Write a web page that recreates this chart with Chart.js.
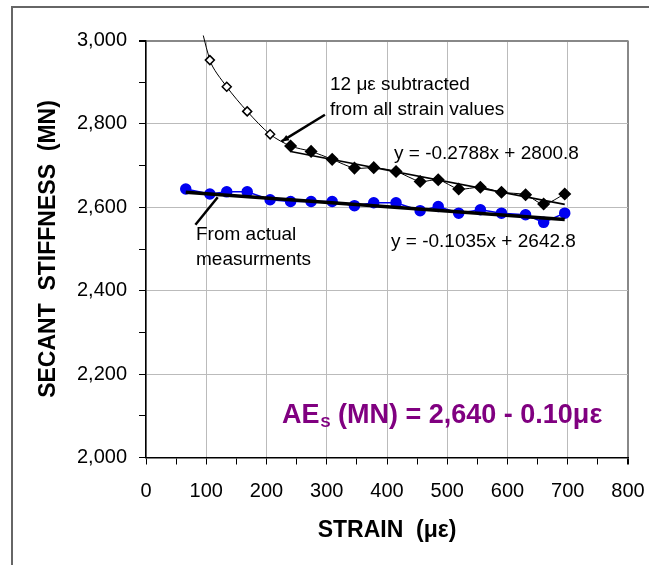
<!DOCTYPE html>
<html>
<head>
<meta charset="utf-8">
<script src="https://cdn.jsdelivr.net/npm/chart.js@4.4.0/dist/chart.umd.min.js"></script>
<style>
  html, body { margin: 0; padding: 0; background: #fff; }
  #wrap { position: relative; width: 649px; height: 565px; }
</style>
</head>
<body>
<div id="wrap"><canvas id="myChart"></canvas></div>
<script>
// strain (με), same for both series
var strain = [66, 106, 134, 168, 206, 240, 274, 309, 346, 378, 415, 455, 485, 519, 555, 590, 630, 660, 695];
// secant stiffness from actual measurments (MN)
var stiffActual = [2644, 2632, 2637, 2637, 2618, 2614, 2614, 2614, 2604, 2611, 2611, 2592, 2602, 2586, 2594, 2586, 2582, 2564, 2586];
// secant stiffness with 12 με subtracted (first one is above the top of the chart)
var stiffShifted = [3210, 2953, 2889, 2830, 2775, 2747, 2734, 2715, 2694, 2695, 2686, 2662, 2666, 2644, 2648, 2636, 2630, 2608, 2632];
// first points of the shifted series are not in the fit (hollow markers)
var hollowCount = 5;
// trendline ends
var trendActualX = [66, 695];
var trendActualY = [2636, 2571];
var trendShiftedX = [240, 695];
var trendShiftedY = [2734, 2607];
// tick labels
var xTickValues = [0, 100, 200, 300, 400, 500, 600, 700, 800];
var yTickValues = [2000, 2200, 2400, 2600, 2800, 3000];

function pts(xs, ys) {
    var out = [];
    for (var i = 0; i < xs.length; i++) out.push({x: xs[i], y: ys[i]});
    return out;
}

var shiftedFill = [], shiftedRadius = [];
for (var i = 0; i < stiffShifted.length; i++) {
    shiftedFill.push(i < hollowCount ? '#fff' : '#000');
    shiftedRadius.push(i == 0 ? 0 : (i < hollowCount ? 4.5 : 5.5));
}

var FONT = "'Liberation Sans', Arial, sans-serif";

//外框、箭头和文字
var notes = {
    id: 'notes',
    beforeDraw: function (chart) {
        var ctx = chart.ctx;
        ctx.save();
        ctx.fillStyle = '#fff';
        ctx.fillRect(0, 0, chart.width, chart.height);
        ctx.fillStyle = '#666';
        ctx.fillRect(11, 6, chart.width - 11, 2);
        ctx.fillRect(11, 6, 2, chart.height - 6);
        ctx.restore();
    },
    afterDatasetsDraw: function (chart) {
        var ctx = chart.ctx, xs = chart.scales.x, ys = chart.scales.y;
        ctx.save();
        ctx.strokeStyle = '#000';
        ctx.lineWidth = 2.5;
        // arrow to the shifted curve
        var x1 = xs.getPixelForValue(297), y1 = ys.getPixelForValue(2822);
        var x2 = xs.getPixelForValue(225), y2 = ys.getPixelForValue(2758);
        ctx.beginPath(); ctx.moveTo(x1, y1); ctx.lineTo(x2, y2); ctx.stroke();
        var a = Math.atan2(y2 - y1, x2 - x1);
        ctx.fillStyle = '#000';
        ctx.beginPath();
        ctx.moveTo(x2, y2);
        ctx.lineTo(x2 - 8 * Math.cos(a - 0.4), y2 - 8 * Math.sin(a - 0.4));
        ctx.lineTo(x2 - 8 * Math.cos(a + 0.4), y2 - 8 * Math.sin(a + 0.4));
        ctx.closePath(); ctx.fill();
        // line to the measured data
        ctx.beginPath();
        ctx.moveTo(xs.getPixelForValue(82), ys.getPixelForValue(2558));
        ctx.lineTo(xs.getPixelForValue(119), ys.getPixelForValue(2624));
        ctx.stroke();

        ctx.fillStyle = '#000';
        ctx.font = '19px ' + FONT;
        ctx.textAlign = 'left';
        ctx.textBaseline = 'alphabetic';
        ctx.fillText('12 με subtracted', 330, 90);
        ctx.fillText('from all strain values', 330, 115);
        ctx.fillText('y = -0.2788x + 2800.8', 394, 159);
        ctx.fillText('y = -0.1035x + 2642.8', 391, 247);
        ctx.fillText('From actual', 196, 240);
        ctx.fillText('measurments', 196, 265);

        ctx.fillStyle = '#800080';
        ctx.font = 'bold 27px ' + FONT;
        var x = 282;
        ctx.fillText('AE', x, 423);
        x += ctx.measureText('AE').width;
        ctx.font = 'bold 15px ' + FONT;
        ctx.fillText('S', x + 1, 427);
        x += ctx.measureText('S').width + 1;
        ctx.font = 'bold 27px ' + FONT;
        ctx.fillText(' (MN) = 2,640 - 0.10με', x, 423);
        ctx.restore();
    }
};

var myChart = new Chart(document.getElementById('myChart').getContext('2d'), {
    type: 'scatter',
    data: {
        datasets: [{
            label: 'trend actual',
            type: 'line',
            data: pts(trendActualX, trendActualY),
            borderColor: '#000',
            borderWidth: 3.5,
            pointRadius: 0,
            order: 0
        }, {
            label: 'trend shifted',
            type: 'line',
            data: pts(trendShiftedX, trendShiftedY),
            borderColor: '#000',
            borderWidth: 1.6,
            pointRadius: 0,
            order: 0
        }, {
            label: 'actual',
            type: 'line',
            data: pts(strain, stiffActual),
            borderColor: '#0000f0',
            borderWidth: 1.5,
            backgroundColor: '#0000f0',
            pointBackgroundColor: '#0000f0',
            pointBorderColor: '#0000f0',
            pointRadius: 5,
            order: 1
        }, {
            label: 'shifted',
            type: 'line',
            data: pts(strain, stiffShifted),
            borderColor: '#000',
            borderWidth: 1,
            tension: 0.3,
            pointStyle: 'rectRot',
            pointBackgroundColor: shiftedFill,
            pointBorderColor: '#000',
            pointBorderWidth: 1.5,
            pointRadius: shiftedRadius,
            clip: {left: 0, top: 5, right: 0, bottom: 0},
            order: 1
        }]
    },
    options: {
        responsive: true,
        maintainAspectRatio: false,
        animation: false,
        layout: {padding: {left: 0, top: 40.5, right: 21, bottom: 0}},
        plugins: {legend: {display: false}, tooltip: {enabled: false}},
        scales: {
            x: {
                type: 'linear',
                min: 0,
                max: 800,
                afterFit: function (scale) {
                    scale.height = 107.5;
                    scale.paddingLeft = 0;
                    scale.paddingRight = 0;
                },
                ticks: {
                    stepSize: 50,
                    autoSkip: false,
                    maxRotation: 0,
                    padding: 15,
                    color: '#000',
                    font: {family: FONT, size: 20},
                    callback: function (v) { return xTickValues.indexOf(v) >= 0 ? String(v) : ''; }
                },
                grid: {
                    tickLength: 7,
                    tickColor: '#000',
                    color: function (c) {
                        var v = c.tick ? c.tick.value : -1;
                        if (v == 800) return '#888';
                        return v % 100 == 0 ? '#bbb' : 'rgba(0,0,0,0)';
                    },
                    lineWidth: function (c) { return c.tick && c.tick.value == 800 ? 2 : 1; }
                },
                border: {color: '#000', width: 1.5},
                title: {
                    display: true,
                    text: 'STRAIN  (με)',
                    color: '#000',
                    font: {family: FONT, size: 23, weight: 'bold'},
                    padding: {top: 0, bottom: 21}
                }
            },
            y: {
                min: 2000,
                max: 3000,
                afterFit: function (scale) {
                    scale.width = 146;
                    scale.paddingTop = 0;
                    scale.paddingBottom = 0;
                },
                ticks: {
                    stepSize: 100,
                    autoSkip: false,
                    padding: 12,
                    color: '#000',
                    font: {family: FONT, size: 20},
                    callback: function (v) { return yTickValues.indexOf(v) >= 0 ? v.toLocaleString('en-US') : ''; }
                },
                grid: {
                    tickLength: 7,
                    tickColor: '#000',
                    color: function (c) {
                        var v = c.tick ? c.tick.value : -1;
                        if (v == 3000) return '#888';
                        return v % 200 == 0 ? '#bbb' : 'rgba(0,0,0,0)';
                    },
                    lineWidth: function (c) { return c.tick && c.tick.value == 3000 ? 2 : 1; }
                },
                border: {color: '#000', width: 1.5},
                title: {
                    display: true,
                    text: 'SECANT  STIFFNESS  (MN)',
                    color: '#000',
                    font: {family: FONT, size: 23, weight: 'bold'},
                    padding: {top: 35, bottom: 0}
                }
            }
        }
    },
    plugins: [notes]
});
</script>
</body>
</html>
